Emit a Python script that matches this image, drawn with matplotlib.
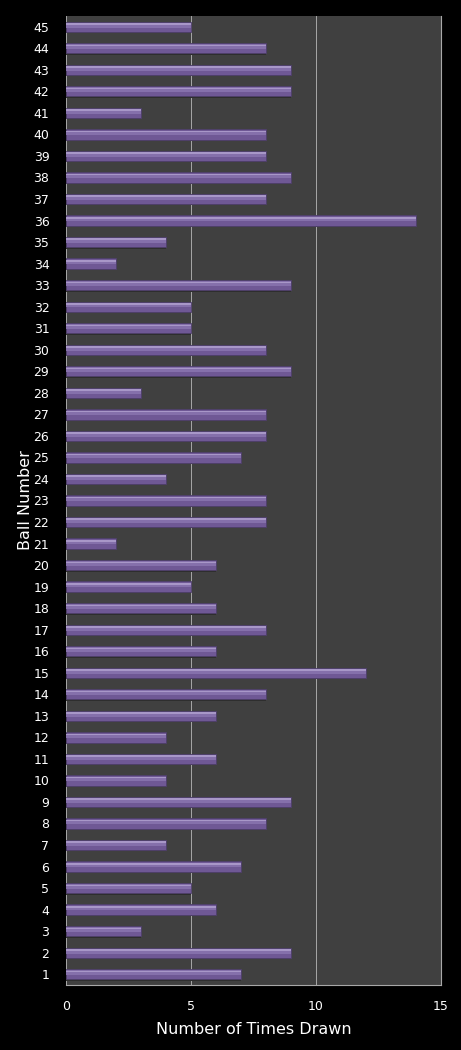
import numpy as np
import matplotlib
matplotlib.use('Agg')
import matplotlib.pyplot as plt

balls = list(range(1, 46))
counts = [7, 9, 3, 6, 5, 7, 4, 8, 9, 4,
          6, 4, 6, 8, 12, 6, 8, 6, 5, 6,
          2, 8, 8, 4, 7, 8, 8, 3, 9, 8,
          5, 5, 9, 2, 4, 14, 8, 9, 8, 8,
          3, 9, 9, 8, 5]

fig = plt.figure(figsize=(4.61, 10.5), dpi=100)
fig.patch.set_facecolor('black')
ax = fig.add_axes([0.1432, 0.0619, 0.8134, 0.9229])
ax.set_facecolor('#404040')

y = np.array(balls)
h = 0.48
# shadow, body, highlight -> fake 3d bar look
ax.barh(y - 0.06, counts, height=h, color='#2e2e2e', zorder=2)
ax.barh(y, counts, height=h, color='#6f5895', edgecolor='#4e3f6a', linewidth=0.6, zorder=3)
ax.barh(y + 0.07, counts, height=h * 0.45, color='#8570ab', linewidth=0, zorder=4)
ax.barh(y + 0.13, counts, height=h * 0.15, color='#a897c8', linewidth=0, zorder=5)

ax.set_xlim(0, 15)
ax.set_ylim(0.5, 45.5)
ax.set_xticks([0, 5, 10, 15])
ax.set_yticks(balls)
ax.set_yticklabels([str(b) for b in balls])
ax.xaxis.grid(True, color='#a8a8a8', linewidth=0.7, zorder=1)
ax.set_axisbelow(True)
ax.tick_params(axis='both', colors='white', labelsize=9, length=0)
ax.tick_params(axis='x', pad=11)
ax.tick_params(axis='y', pad=12)
for s in ['top', 'left']:
    ax.spines[s].set_visible(False)
ax.spines['right'].set_color('#a8a8a8')
ax.spines['bottom'].set_color('#a8a8a8')

ax.set_xlabel('Number of Times Drawn', color='white', fontsize=11.5, labelpad=6)
ax.set_ylabel('Ball Number', color='white', fontsize=11.5)
ax.yaxis.set_label_coords(-0.088, 0.5)

fig.savefig('out.png', dpi=100, facecolor='black')
